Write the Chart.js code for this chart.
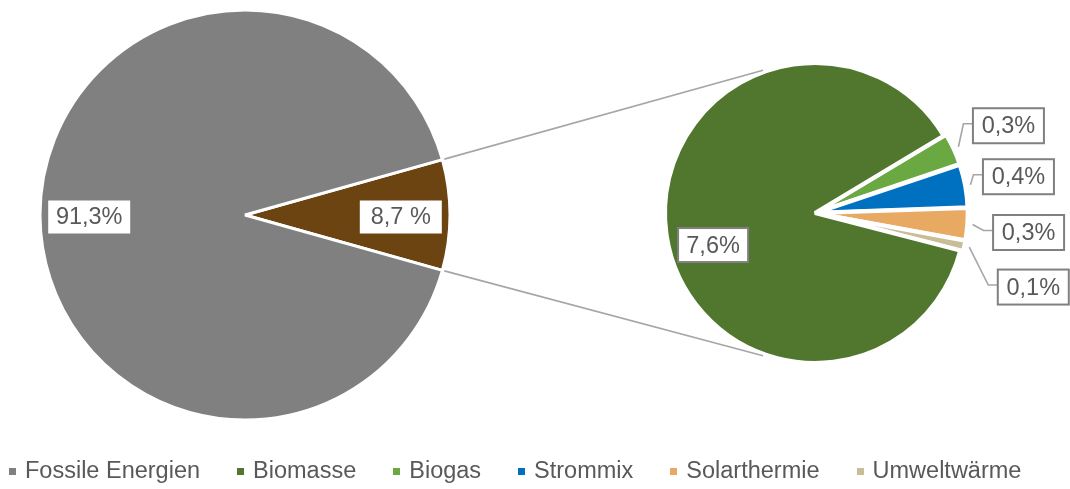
<!DOCTYPE html>
<html>
<head>
<meta charset="utf-8">
<script src="https://cdn.jsdelivr.net/npm/chart.js@4/dist/chart.umd.min.js"></script>
<style>
  html,body{margin:0;padding:0;background:#fff;}
  #wrap{position:relative;width:1070px;height:489px;overflow:hidden;font-family:"Liberation Sans",Arial,sans-serif;}
  #wrap canvas{position:absolute;left:0;top:0;}
  #legend{position:absolute;left:9px;top:457px;display:flex;align-items:center;color:#595959;font-size:23.5px;white-space:nowrap;}
  #legend .item{display:flex;align-items:center;margin-right:37px;}
  #legend .box{width:7px;height:7px;margin-right:9px;margin-top:2px;}
</style>
</head>
<body>
<div id="wrap">
  <canvas id="main" width="1070" height="489"></canvas>
  <canvas id="detail" width="1070" height="489"></canvas>
  <div id="legend"></div>
</div>
<script>
// legend order
const categories=['Fossile Energien','Biomasse','Biogas','Strommix','Solarthermie','Umweltwärme'];
const catColors=['#808080','#50772D','#6AA842','#0070C0','#E8A963','#C9BD98'];

// left pie: renewable share first, then fossil
const mainCategories=['Erneuerbare Energien','Fossile Energien'];
const mainValues=[8.7,91.3];
const mainLabels=['8,7 %','91,3%'];
const mainColors=['#6C4412','#808080'];

// right pie: breakdown of the 8,7 %
const detailCategories=['Biogas','Strommix','Solarthermie','Umweltwärme','Biomasse'];
const detailValues=[0.3,0.4,0.3,0.1,7.6];
const detailLabels=['0,3%','0,4%','0,3%','0,1%','7,6%'];

const textCol='#595959';
const labelFont='23.5px "Liberation Sans", Arial, sans-serif';

// legend
const lg=document.getElementById('legend');
categories.forEach((c,i)=>{
  const it=document.createElement('div');it.className='item';
  const b=document.createElement('span');b.className='box';b.style.background=catColors[i];
  const t=document.createElement('span');t.textContent=c;
  it.appendChild(b);it.appendChild(t);lg.appendChild(it);
});

function drawBox(ctx,text,cx,cy,w,h,border){
  ctx.save();
  ctx.fillStyle='#fff';
  ctx.fillRect(cx-w/2,cy-h/2,w,h);
  if(border){ctx.strokeStyle='#808080';ctx.lineWidth=2;ctx.strokeRect(cx-w/2,cy-h/2,w,h);}
  ctx.fillStyle=textCol;ctx.font=labelFont;ctx.textAlign='center';ctx.textBaseline='middle';
  ctx.fillText(text,cx,cy+1);
  ctx.restore();
}

const mainLabelPlugin={
  id:'mainLabels',
  afterDatasetsDraw(chart){
    const ctx=chart.ctx;
    chart.getDatasetMeta(0).data.forEach((arc,i)=>{
      const p=arc.getProps(['x','y','startAngle','endAngle','outerRadius'],true);
      const a=(p.startAngle+p.endAngle)/2;
      const r=p.outerRadius*0.76;
      drawBox(ctx,mainLabels[i],p.x+Math.cos(a)*r,p.y+Math.sin(a)*r+2,82,33,false);
    });
  }
};

Chart.defaults.font.family='"Liberation Sans", Arial, sans-serif';

const mainChart=new Chart(document.getElementById('main').getContext('2d'),{
  type:'pie',
  data:{labels:mainCategories,datasets:[{data:mainValues,backgroundColor:mainColors,borderColor:'#fff',borderWidth:3}]},
  options:{
    responsive:false,animation:false,
    rotation:90-mainValues[0]/100*360/2,
    radius:205,
    layout:{padding:{left:30,right:610,top:0,bottom:59}},
    plugins:{legend:{display:false},tooltip:{enabled:false}}
  },
  plugins:[mainLabelPlugin]
});

// offsets of the outside labels from the slice edge
const labelShift=[[50,-21],[48,-8],[56,8],[64,40]];

const detailPlugin={
  id:'detailLabels',
  afterDatasetsDraw(chart){
    const ctx=chart.ctx;
    // connector lines from the brown slice to the right pie
    const src=mainChart.getDatasetMeta(0).data[0].getProps(['x','y','startAngle','endAngle','outerRadius'],true);
    const arcs=chart.getDatasetMeta(0).data;
    const c=arcs[arcs.length-1].getProps(['x','y','outerRadius'],true);
    ctx.save();
    ctx.strokeStyle='#A6A6A6';ctx.lineWidth=1.6;
    [[src.startAngle,-110],[src.endAngle,110]].forEach(([ang,deg])=>{
      const px=src.x+Math.cos(ang)*(src.outerRadius+2), py=src.y+Math.sin(ang)*(src.outerRadius+2);
      const t=deg*Math.PI/180;
      ctx.beginPath();ctx.moveTo(px,py);
      ctx.lineTo(c.x+Math.cos(t)*(c.outerRadius+2),c.y+Math.sin(t)*(c.outerRadius+2));
      ctx.stroke();
    });
    ctx.restore();
    arcs.forEach((arc,i)=>{
      const p=arc.getProps(['x','y','startAngle','endAngle','outerRadius'],true);
      const a=(p.startAngle+p.endAngle)/2;
      if(i===arcs.length-1){
        const r=p.outerRadius*0.70;
        drawBox(ctx,detailLabels[i],p.x+Math.cos(a)*r+2,p.y+Math.sin(a)*r+17,70,34,true);
        return;
      }
      const ex=p.x+Math.cos(a)*(p.outerRadius+8), ey=p.y+Math.sin(a)*(p.outerRadius+8);
      const bx=ex+labelShift[i][0], by=ey+labelShift[i][1];
      const left=bx-35;
      ctx.save();
      ctx.strokeStyle='#A6A6A6';ctx.lineWidth=1.6;
      ctx.beginPath();ctx.moveTo(ex,ey);ctx.lineTo(left-10,by-2);ctx.lineTo(left,by-2);ctx.stroke();
      ctx.restore();
      drawBox(ctx,detailLabels[i],bx,by,71,35,true);
    });
  }
};

new Chart(document.getElementById('detail').getContext('2d'),{
  type:'pie',
  data:{labels:detailCategories,datasets:[{
    data:detailValues,
    backgroundColor:detailCategories.map(n=>catColors[categories.indexOf(n)]),
    borderColor:'#fff',borderWidth:4,
    offset:detailCategories.map(n=>n==='Biomasse'?0:6)
  }]},
  options:{
    responsive:false,animation:false,
    rotation:59,
    radius:150,
    layout:{padding:{left:655,right:95,top:53,bottom:116}},
    plugins:{legend:{display:false},tooltip:{enabled:false}}
  },
  plugins:[detailPlugin]
});
</script>
</body>
</html>
